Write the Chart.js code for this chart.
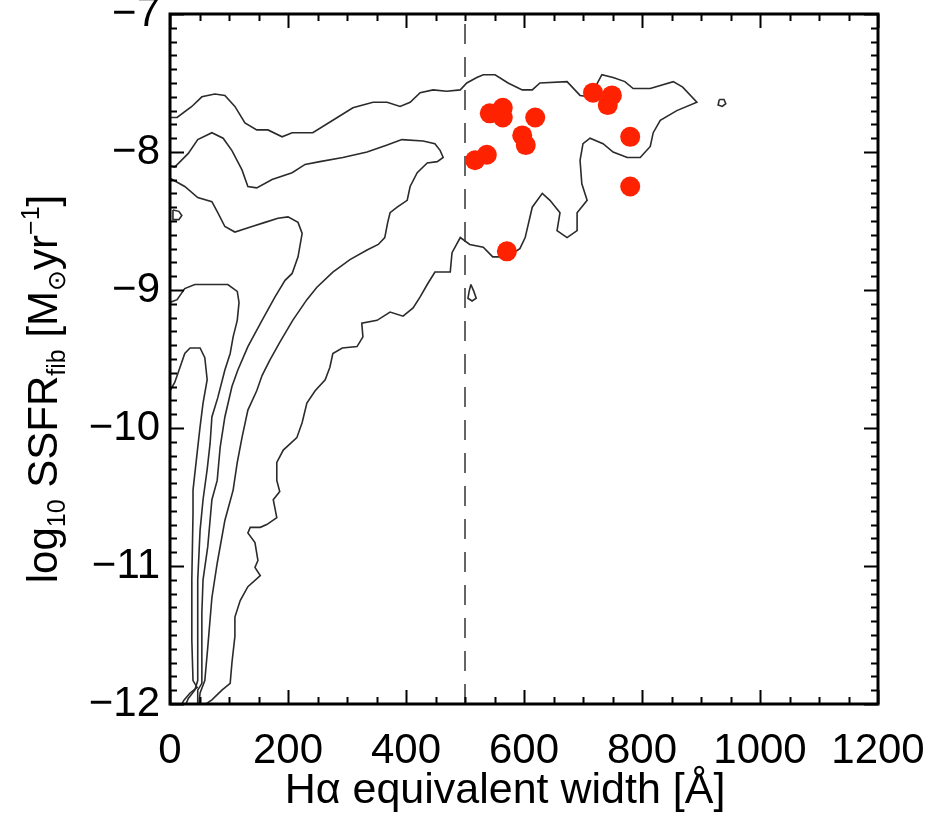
<!DOCTYPE html>
<html><head><meta charset="utf-8">
<script src="https://cdn.jsdelivr.net/npm/chart.js@4.4.1/dist/chart.umd.min.js"></script>
<style>html,body{margin:0;padding:0;background:#fff;}canvas{display:block;}</style>
</head><body>
<canvas id="c" width="932" height="820"></canvas>
<script>
// ---- axis ticks ----
const xTicks = [0, 200, 400, 600, 800, 1000, 1200];
const yTicks = [-12, -11, -10, -9, -8, -7];
const ewCut = 500;

// ---- red points: H-alpha EW [A], log10 SSFR ----
const galaxyEW   = [542, 564, 564, 619, 597, 603, 517, 537, 717, 749, 742, 780, 780, 571];
const galaxySSFR = [-7.72, -7.68, -7.75, -7.75, -7.88, -7.95, -8.06, -8.02, -7.57, -7.59, -7.66, -7.89, -8.25, -8.72];

// ---- contours (EW, log SSFR) ----
const contourOuter = [[0,-7.75],[12,-7.75],[37,-7.67],[54,-7.60],[76,-7.58],[93,-7.59],[110,-7.67],[127,-7.79],[147,-7.84],[166,-7.84],[190,-7.89],[207,-7.86],[229,-7.86],[242,-7.86],[276,-7.77],[310,-7.68],[344,-7.64],[368,-7.64],[390,-7.67],[407,-7.64],[424,-7.57],[446,-7.55],[469,-7.56],[492,-7.55],[503,-7.50],[520,-7.46],[531,-7.44],[551,-7.44],[573,-7.50],[597,-7.55],[614,-7.55],[627,-7.50],[673,-7.49],[695,-7.59],[712,-7.60],[732,-7.44],[751,-7.46],[771,-7.49],[785,-7.54],[814,-7.54],[853,-7.49],[869,-7.53],[893,-7.64],[859,-7.70],[831,-7.77],[819,-7.86],[814,-7.96],[797,-8.04],[775,-8.04],[751,-8.00],[734,-7.94],[712,-7.90],[700,-7.94],[695,-8.06],[698,-8.23],[707,-8.35],[690,-8.44],[690,-8.57],[673,-8.62],[656,-8.57],[661,-8.44],[644,-8.35],[631,-8.30],[614,-8.40],[602,-8.62],[593,-8.70],[571,-8.76],[547,-8.76],[531,-8.69],[508,-8.67],[492,-8.62],[478,-8.73],[475,-8.87],[449,-8.87],[436,-8.96],[424,-9.05],[412,-9.13],[395,-9.19],[373,-9.16],[351,-9.22],[325,-9.24],[327,-9.34],[317,-9.41],[292,-9.42],[276,-9.46],[271,-9.56],[263,-9.65],[246,-9.73],[232,-9.82],[224,-9.96],[215,-10.07],[192,-10.16],[181,-10.25],[181,-10.38],[186,-10.46],[175,-10.52],[181,-10.65],[164,-10.70],[153,-10.72],[136,-10.72],[132,-10.76],[144,-10.83],[149,-10.96],[144,-11.01],[153,-11.07],[132,-11.15],[119,-11.25],[110,-11.37],[110,-11.51],[105,-11.70],[102,-11.85],[88,-11.90],[71,-11.97],[61,-12.0]];
const contourSecond = [[0,-8.10],[8,-8.11],[31,-8.01],[47,-7.91],[71,-7.86],[90,-7.90],[105,-7.99],[122,-8.13],[132,-8.25],[147,-8.26],[173,-8.20],[207,-8.15],[229,-8.09],[254,-8.07],[293,-8.04],[334,-8.00],[368,-7.95],[393,-7.91],[429,-7.92],[449,-7.94],[458,-7.99],[463,-8.04],[453,-8.07],[436,-8.08],[419,-8.15],[407,-8.25],[402,-8.35],[385,-8.40],[373,-8.44],[369,-8.51],[364,-8.62],[353,-8.67],[334,-8.71],[305,-8.78],[276,-8.87],[249,-8.98],[232,-9.07],[208,-9.22],[186,-9.38],[169,-9.51],[156,-9.62],[147,-9.73],[132,-9.87],[122,-10.07],[114,-10.25],[107,-10.45],[93,-10.67],[80,-10.98],[71,-11.23],[64,-11.59],[59,-11.83],[51,-11.92],[49,-12.0]];
const contourThird = [[0,-8.19],[25,-8.25],[47,-8.33],[71,-8.36],[81,-8.44],[93,-8.54],[110,-8.58],[139,-8.54],[161,-8.51],[183,-8.48],[200,-8.47],[217,-8.51],[224,-8.59],[217,-8.76],[207,-8.88],[195,-8.93],[178,-9.05],[156,-9.22],[132,-9.41],[115,-9.58],[105,-9.70],[93,-9.92],[85,-10.14],[80,-10.38],[71,-10.52],[64,-10.86],[56,-11.10],[54,-11.34],[54,-11.70],[54,-11.85],[47,-11.90],[47,-12.0]];
const contourFourth = [[0,-9.09],[12,-9.07],[25,-8.99],[42,-8.96],[98,-8.96],[114,-9.01],[117,-9.09],[114,-9.22],[107,-9.34],[102,-9.46],[93,-9.58],[81,-9.78],[71,-9.92],[68,-10.11],[63,-10.30],[56,-10.52],[51,-10.74],[47,-11.10],[47,-11.46],[47,-11.83],[42,-11.90],[31,-11.96],[27,-12.0]];
const contourInner = [[0,-9.73],[8,-9.67],[17,-9.56],[25,-9.46],[34,-9.42],[51,-9.42],[59,-9.49],[63,-9.65],[56,-9.82],[51,-9.99],[46,-10.18],[39,-10.45],[39,-10.62],[37,-11.10],[37,-11.54],[39,-11.83],[46,-11.88],[34,-11.92],[24,-11.97],[20,-12.0]];
const islandLeft  = [[5,-8.42],[15,-8.43],[20,-8.46],[15,-8.49],[5,-8.49],[5,-8.42]];
const islandMid   = [[510,-8.96],[515,-9.01],[519,-9.06],[512,-9.08],[505,-9.06],[507,-9.01],[510,-8.96]];
const islandRight = [[931,-7.62],[939,-7.62],[942,-7.65],[936,-7.67],[929,-7.66],[931,-7.62]];

const FONT = "'Liberation Sans', Arial, Helvetica, sans-serif";
const xTitle = 'H\u03b1 equivalent width [\u00c5]';
const toXY = arr => arr.map(p => ({x: p[0], y: p[1]}));
const lineDS = (arr) => ({data: toXY(arr), showLine: true, pointRadius: 0, borderColor: '#2b2b2b', borderWidth: 1.6, tension: 0, fill: false});

// frame + inward ticks (IDL style) using the chart's scales
const framePlugin = {
  id: 'frame',
  afterDatasetsDraw(chart) {
    const {ctx, chartArea: a, scales: {x, y}} = chart;
    ctx.save();
    ctx.strokeStyle = '#000';
    ctx.lineWidth = 2;
    ctx.beginPath();
    for (let v = xTicks[0]; v <= xTicks[xTicks.length - 1]; v += 50) {
      const px = Math.round(x.getPixelForValue(v)) + 0.5;
      const len = (v % 200 === 0) ? 14 : 7;
      ctx.moveTo(px, a.bottom); ctx.lineTo(px, a.bottom - len);
      ctx.moveTo(px, a.top); ctx.lineTo(px, a.top + len);
    }
    for (let k = 0; k <= 50; k++) {
      const v = yTicks[0] + k * 0.1;
      const py = Math.round(y.getPixelForValue(v)) + 0.5;
      const len = (k % 10 === 0) ? 14 : 7;
      ctx.moveTo(a.left, py); ctx.lineTo(a.left + len, py);
      ctx.moveTo(a.right, py); ctx.lineTo(a.right - len, py);
    }
    ctx.stroke();
    ctx.lineWidth = 3;
    ctx.strokeRect(a.left, a.top, a.right - a.left, a.bottom - a.top);
    ctx.restore();
  },
  afterDraw(chart) {
    const {ctx, chartArea: a} = chart;
    const size = 42;
    // x-axis title
    ctx.save();
    ctx.fillStyle = '#000';
    ctx.font = '43px ' + FONT;
    ctx.textAlign = 'center';
    ctx.textBaseline = 'alphabetic';
    ctx.fillText(xTitle, 505, 803);
    ctx.restore();
    // y-axis title with sub/superscripts
    const parts = [
      {t: 'log', k: 'n'}, {t: '10', k: 'sub'}, {t: ' SSFR', k: 'n'}, {t: 'fib', k: 'sub'},
      {t: ' [M', k: 'n'}, {t: '\u2299', k: 'sub'}, {t: 'yr', k: 'n'}, {t: '\u22121', k: 'sup'}, {t: ']', k: 'n'}
    ];
    const fontFor = k => (k === 'n' ? size : Math.round(size * 0.6)) + 'px ' + FONT;
    ctx.save();
    let total = 0;
    parts.forEach(p => { ctx.font = fontFor(p.k); p.w = ctx.measureText(p.t).width; total += p.w; });
    ctx.translate(57, (a.top + a.bottom) / 2 + 30);
    ctx.rotate(-Math.PI / 2);
    ctx.fillStyle = '#000';
    ctx.textBaseline = 'alphabetic';
    let cx = -total / 2;
    parts.forEach(p => {
      ctx.font = fontFor(p.k);
      const dy = p.k === 'sub' ? size * 0.18 : (p.k === 'sup' ? -size * 0.42 : 0);
      ctx.fillText(p.t, cx, dy);
      cx += p.w;
    });
    ctx.restore();
  }
};

new Chart(document.getElementById('c'), {
  type: 'scatter',
  data: {
    datasets: [
      {data: galaxyEW.map((v, i) => ({x: v, y: galaxySSFR[i]})), pointRadius: 10, pointHoverRadius: 10,
       backgroundColor: '#ff2200', borderColor: '#ff2200', borderWidth: 0, showLine: false},
      {data: [{x: ewCut, y: yTicks[0]}, {x: ewCut, y: yTicks[yTicks.length - 1]}], showLine: true, pointRadius: 0,
       borderColor: '#333', borderWidth: 1.5, borderDash: [20, 13]},
      lineDS(contourOuter), lineDS(contourSecond), lineDS(contourThird), lineDS(contourFourth), lineDS(contourInner),
      lineDS(islandLeft), lineDS(islandMid), lineDS(islandRight)
    ]
  },
  options: {
    responsive: false, animation: false, devicePixelRatio: 1,
    layout: {padding: {left: 0, top: 14, right: 54, bottom: 0}},
    plugins: {legend: {display: false}, tooltip: {enabled: false}},
    scales: {
      x: {
        type: 'linear', min: xTicks[0], max: xTicks[xTicks.length - 1],
        grid: {display: false, drawTicks: false}, border: {display: false},
        ticks: {stepSize: 200, padding: 22, color: '#000', font: {size: 42, family: FONT}, maxRotation: 0,
                callback: v => xTicks.includes(v) ? String(v) : null},
        afterFit: s => { s.height = 116; s.paddingLeft = 0; s.paddingRight = 0; }
      },
      y: {
        type: 'linear', min: yTicks[0], max: yTicks[yTicks.length - 1],
        grid: {display: false, drawTicks: false}, border: {display: false},
        ticks: {stepSize: 1, padding: 10, color: '#000', font: {size: 42, family: FONT},
                callback: v => yTicks.includes(v) ? '\u2212' + Math.abs(v) : null},
        afterFit: s => { s.width = 170; s.paddingTop = 0; s.paddingBottom = 0; }
      }
    }
  },
  plugins: [framePlugin]
});
</script>
</body></html>
